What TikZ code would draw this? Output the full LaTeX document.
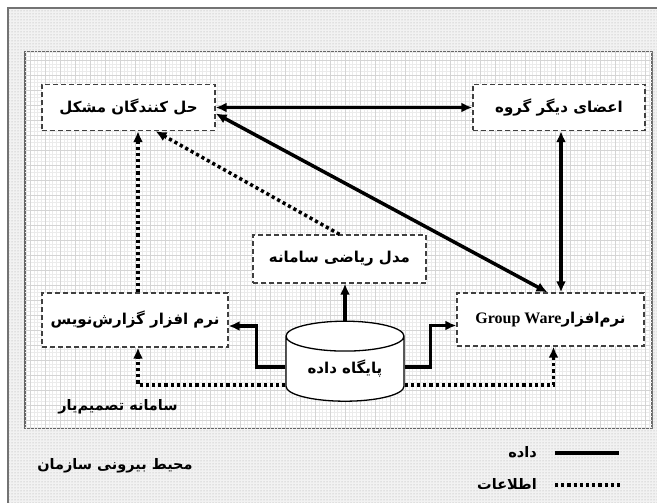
\documentclass[tikz,border=0pt]{standalone}
\usepackage{fontspec}
\newfontfamily\fa[Script=Arabic]{DejaVu Sans}
\newfontfamily\lat{Liberation Serif}
\usetikzlibrary{arrows.meta,shapes.geometric,patterns}
\TeXXeTstate=1
\newcommand{\fatext}[1]{\fa\bfseries\beginR #1\endR}

\begin{document}
\begin{tikzpicture}[x=1pt,y=-1pt,
		>={Latex[length=11pt,width=10pt]},
		box/.style={
			draw=black!75,
			line width=1.3pt,
			dash pattern=on 5pt off 3pt,
			fill=white,
			minimum width=#1,
			minimum height=46pt,
			inner sep=0pt,
			font=\fontsize{15}{18}\selectfont
		},
		data/.style={line width=3.5pt},
		info/.style={line width=3.5pt,dash pattern=on 3.2pt off 3pt},
		label/.style={font=\fontsize{14.5}{17}\selectfont,inner sep=0pt}
		]
				\useasboundingbox (0,0) rectangle (657,503);
				
				\filldraw[draw=black!55,line width=1.4pt,fill=black!5]
				(8,8) rectangle (670,515);
				\fill[pattern=dots,pattern color=black!35]
				(9,9) rectangle (670,515);
				
				\filldraw[draw=black!60,line width=1.4pt,fill=white]
				(25,52) rectangle (652,428);
				\begin{scope}
					\clip (25,52) rectangle (652,428);
					\draw[black!8,line width=0.3pt,step=3.75pt] (20,40) grid (660,440);
					\draw[black!17,line width=0.4pt,step=15pt] (20,40) grid (660,440);
				\end{scope}
				
				\node[box=173pt] (solver) at (128.5,107.5) {\fatext{حل کنندگان مشکل}};
				\node[box=172pt] (members) at (559,107.5) {\fatext{اعضای دیگر گروه}};
				\node[box=173pt,minimum height=48pt] (model) at (339.5,259) {\fatext{مدل ریاضی سامانه}};
				\node[box=186pt,minimum height=54pt] (report) at (135,320) {\fatext{نرم افزار گزارش‌نویس}};
				\node[box=187pt,minimum height=53pt] (gw) at (550.5,319.5)
				{\fatext{نرم‌افزار\beginL{\lat\bfseries\fontsize{16}{18}\selectfont Group Ware}\endL}};
				\node[cylinder,shape border rotate=90,draw,line width=1.3pt,fill=white,
				minimum width=118pt,minimum height=80pt,aspect=0.4,inner sep=0pt,
				font=\fontsize{15}{18}\selectfont] (db) at (345,369) {\fatext{پایگاه داده}};
				
				\draw[data,<->] (solver.east) -- (members.west);
				\draw[data,<->] ([yshift=-6pt]solver.east) -- ([xshift=-3pt]gw.north);
				\draw[data,<->] ([xshift=2pt]members.south) -- ([xshift=2pt]members.south |- gw.north);
				\draw[info,->] (model.north) -- ([xshift=27pt]solver.south);
				\draw[info,->] ([xshift=3pt]report.north) -- ([xshift=3pt]report.north |- solver.south);
				
				\draw[data,->] (db.north) -- (db.north |- model.south);
				\draw[data,->] ([yshift=2pt]db.west) -- ++(-29,0) |- ([yshift=-6pt]report.east);
				\draw[data,->] ([yshift=2pt]db.east) -- ++(26,0) |- ([yshift=-6pt]gw.west);
				\draw[info,->] ([yshift=-16pt]db.west) -| ([xshift=3pt]report.south);
				\draw[info,->] ([yshift=-16pt]db.east) -| ([xshift=3pt]gw.south);
				
				\node[label] (dss) at (118,407) {\fatext{سامانه تصمیم‌یار}};
				\node[label] (env) at (115,466) {\fatext{محیط بیرونی سازمان}};
				
				\coordinate (dataA) at (555,453);
				\coordinate (dataB) at (619,453);
				\coordinate (infoA) at (555,485);
				\coordinate (infoB) at (621,485);
				\draw[data] (dataA) -- (dataB);
				\draw[info] (infoA) -- (infoB);
				\node[label,anchor=east] (datalabel) at (537,452) {\fatext{داده}};
				\node[label,anchor=east] (infolabel) at (537,484) {\fatext{اطلاعات}};
			\end{tikzpicture}
\end{document}
